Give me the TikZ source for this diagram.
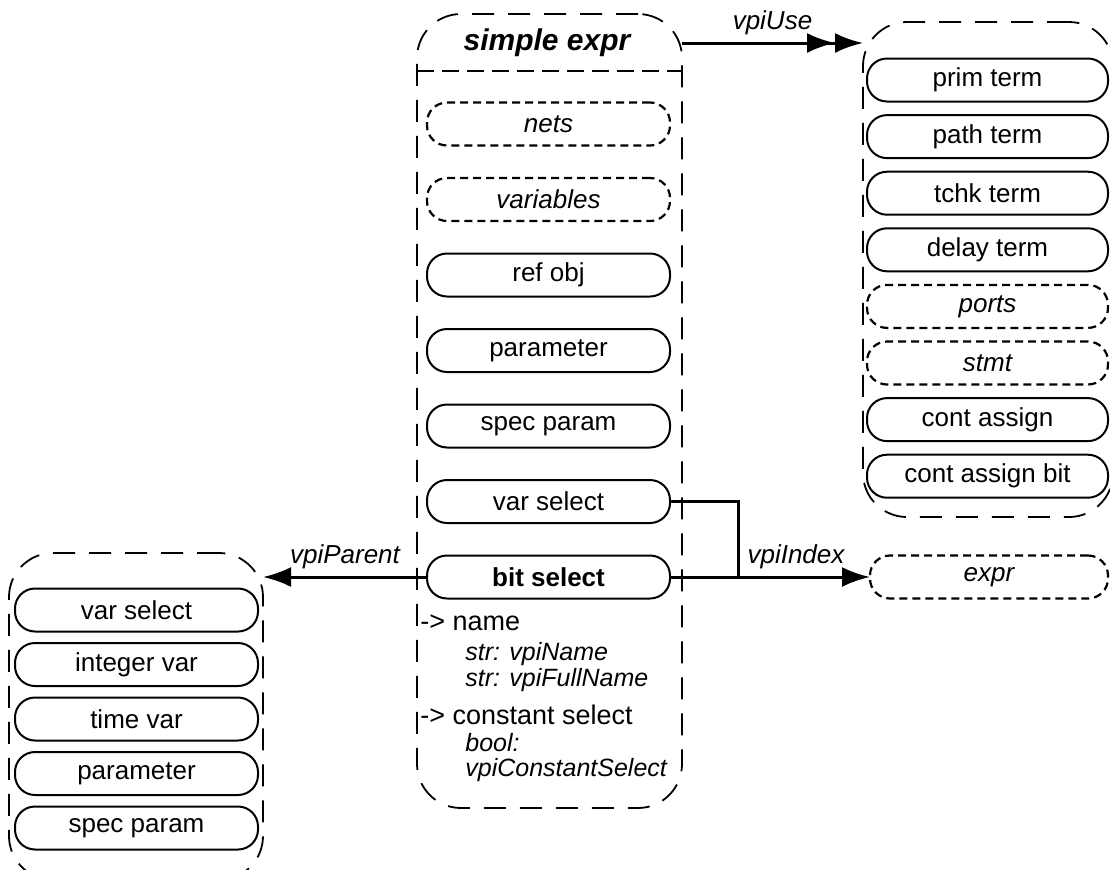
\documentclass[tikz,border=0pt]{standalone}
\usepackage{fontspec}
\setmainfont{Liberation Sans}
\usepackage{tikz}
\usetikzlibrary{arrows.meta,positioning}
\tikzset{
  obj/.style={draw, rounded corners=10pt, line width=1pt, minimum width=121.5pt,
              minimum height=21.5pt, inner sep=0pt, outer sep=0pt,
              font=\fontsize{13}{15}\selectfont},
  absobj/.style={obj, line width=1.1pt, dash pattern=on 4pt off 2.5pt,
                 font=\fontsize{13}{15}\selectfont\itshape},
  grp/.style={draw, rounded corners=22pt, line width=0.9pt, dash pattern=on 11pt off 7pt,
              inner sep=0pt, outer sep=0pt},
  sepline/.style={line width=0.9pt, dash pattern=on 8.5pt off 4pt},
  rel/.style={-{Latex[length=14pt,width=10pt]}, line width=1.5pt},
  rellbl/.style={font=\fontsize{13}{15}\selectfont\itshape},
  % attribute lines under a class
  attr/.style={anchor=west, inner sep=0pt, font=\fontsize{13.5}{15}\selectfont},
  attrval/.style={anchor=west, inner sep=0pt, font=\fontsize{12.5}{14}\selectfont\itshape},
}

\begin{document}
\begin{tikzpicture}[x=0.5pt, y=-0.5pt, node distance=16.25pt]
    \useasboundingbox (0,0) rectangle (1110,869);
    % the simple expr class
    \node[grp, minimum width=132.5pt, minimum height=397pt] (exprgrp) at (549.5,411) {};
    \node[font=\fontsize{15}{17}\selectfont\bfseries\itshape] (hdr) at (547,43) {simple expr};
    \coordinate (sepy) at (0,71);
    \draw[sepline] (exprgrp.west |- sepy) -- (exprgrp.east |- sepy);
    \node[absobj] (nets) at (548.5,124) {nets};
    \node[absobj, below=of nets] (vars) {variables};
    \node[obj, below=of vars] (refobj) {ref obj};
    \node[obj, below=of refobj] (param) {parameter};
    \node[obj, below=of param] (specparam) {spec param};
    \node[obj, below=of specparam] (varsel) {var select};
    \node[obj, below=of varsel, font=\fontsize{13}{15}\selectfont\bfseries] (bitsel) {bit select};
    \node[attr] (nameattr) at (420,623) {-> name};
    \node[attrval] (namev1) at (465,654) {str: vpiName};
    \node[attrval] (namev2) at (465,680) {str: vpiFullName};
    \node[attr] (constattr) at (420,715) {-> constant select};
    \node[attrval] (constv1) at (465,743) {bool:};
    \node[attrval] (constv2) at (465,770) {vpiConstantSelect};

    % vpiUse targets
    \node[grp, minimum width=125pt, minimum height=247.5pt] (usegrp) at (988,269.5) {};
    \node[obj, minimum width=120.5pt] (primterm) at (987.5,80) {prim term};
    \node[obj, minimum width=120.5pt, below=6.8pt of primterm] (pathterm) {path term};
    \node[obj, minimum width=120.5pt, below=6.8pt of pathterm] (tchkterm) {tchk term};
    \node[obj, minimum width=120.5pt, below=6.8pt of tchkterm] (delayterm) {delay term};
    \node[absobj, minimum width=120.5pt, below=6.8pt of delayterm] (ports) {ports};
    \node[absobj, minimum width=120.5pt, below=6.8pt of ports] (stmt) {stmt};
    \node[obj, minimum width=120.5pt, below=6.8pt of stmt] (contassign) {cont assign};
    \node[obj, minimum width=120.5pt, below=6.8pt of contassign] (contassignbit) {cont assign bit};

    % vpiParent targets
    \node[grp, minimum width=127pt, minimum height=163.5pt] (pargrp) at (136,716.5) {};
    \node[obj] (pvarsel) at (136.5,610) {var select};
    \node[obj, below=5.75pt of pvarsel] (pintvar) {integer var};
    \node[obj, below=5.75pt of pintvar] (ptimevar) {time var};
    \node[obj, below=5.75pt of ptimevar] (pparam) {parameter};
    \node[obj, below=5.75pt of pparam] (pspecparam) {spec param};

    \node[absobj, minimum width=119pt, right=100pt of bitsel] (expr) {expr};

    \draw[rel, -{Latex[length=14pt,width=10pt]Latex[length=14pt,width=10pt]}]
      (exprgrp.east |- hdr) -- node[above, rellbl]{vpiUse} (usegrp.west |- hdr);
    \draw[rel] (bitsel.west) -- node[above, rellbl]{vpiParent} (pargrp.east |- bitsel);
    \coordinate[xshift=34pt] (idxjoin) at (bitsel.east);
    \draw[line width=1.5pt] (varsel.east) -| (idxjoin);
    \draw[rel] (bitsel.east) -- node[pos=0.63, above, rellbl]{vpiIndex} (expr.west);
\end{tikzpicture}
\end{document}
